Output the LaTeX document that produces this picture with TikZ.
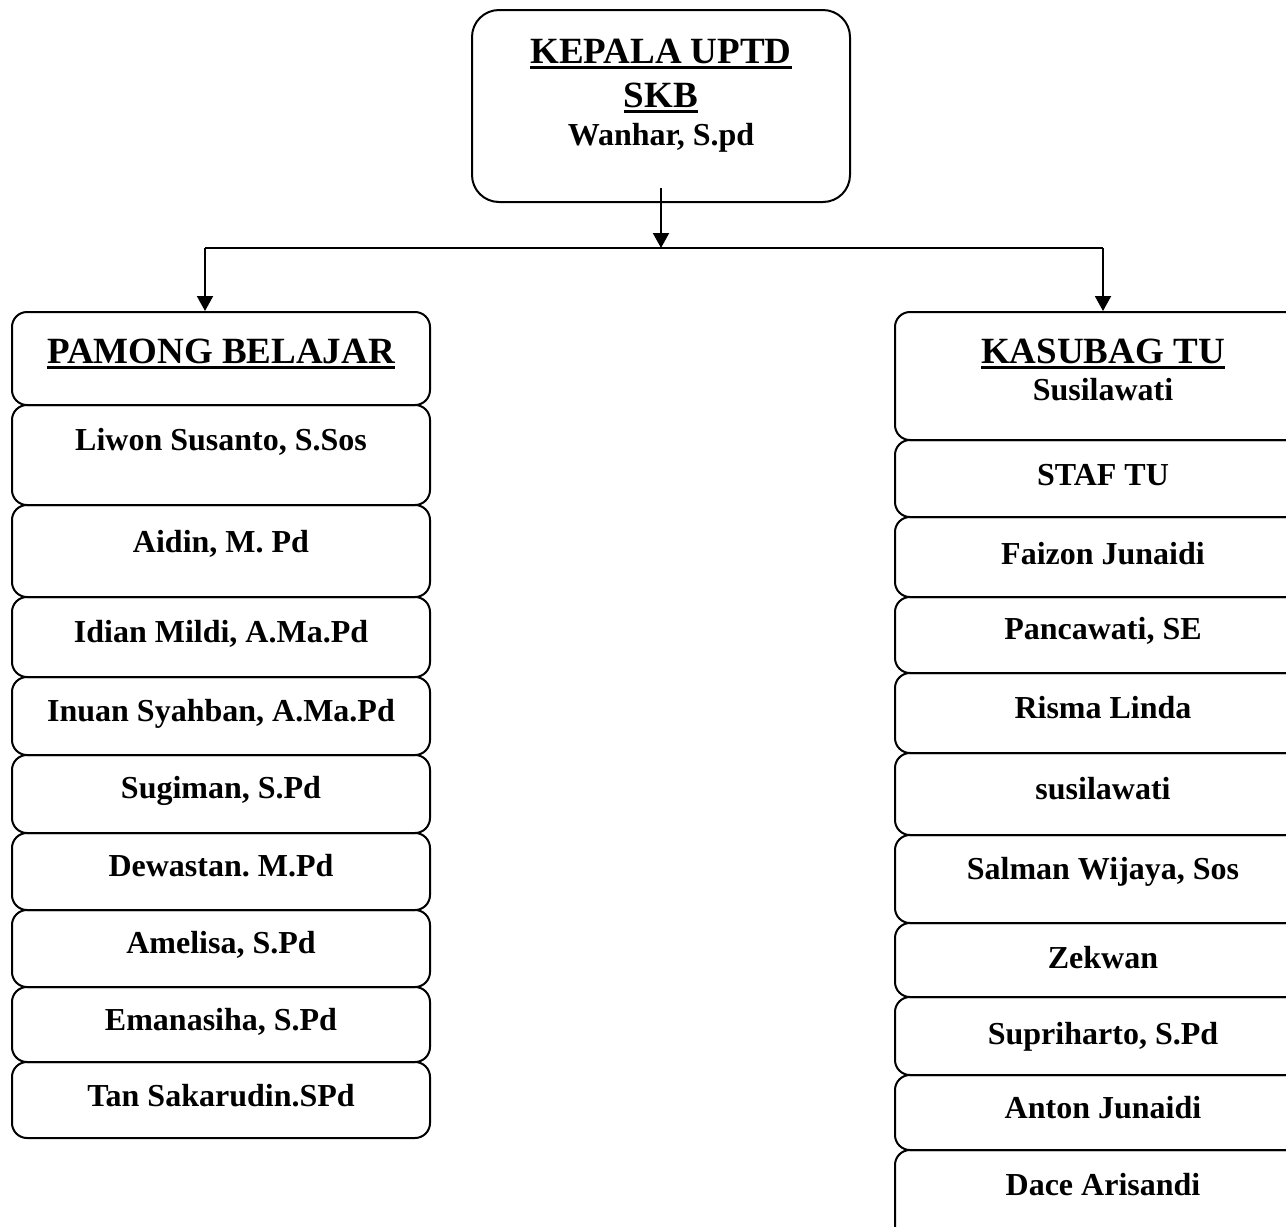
\documentclass[tikz,border=0pt]{standalone}
\usepackage{fontspec}
\setmainfont{Liberation Serif}
\usetikzlibrary{arrows.meta,fit}
\newcommand{\myul}[1]{\leavevmode\vtop{\hbox{#1}\kern2.5pt\hrule height 3pt}}
\frenchspacing
\begin{document}
\begin{tikzpicture}[x=1pt,y=-1pt, line width=2pt,
  box/.style={draw, rounded corners=15pt, inner sep=0pt},
  nm/.style={anchor=base, inner sep=0pt, font=\fontsize{32}{38}\selectfont\bfseries},
  ttl/.style={anchor=base, inner sep=0pt, font=\fontsize{37}{44}\selectfont\bfseries},
  arr/.style={-{Triangle[length=15pt,width=16pt]}}]
\useasboundingbox (0,0) rectangle (1286,1227);
\clip (0,0) rectangle (1286,1227);
% top box
\node[box, rounded corners=27pt, fit={(472,10)(850,202)}] (top) {};
\node[ttl] (t1) at (661,63) {\myul{KEPALA UPTD}};
\node[ttl] (t2) at (661,107) {\myul{SKB}};
\node[nm] (t3) at (661,145) {Wanhar, S.pd};
% connectors
\coordinate (j) at (661,248);
\coordinate (jl) at (205,248);
\coordinate (jr) at (1103,248);
% left column
\node[box, fit={(12,312)(430,405)}] (pb) {};
\node[ttl] at (221,363) {\myul{PAMONG BELAJAR}};
\node[box, fit={(12,405)(430,505)}] (l1) {};
\node[nm] at (221,450) {Liwon Susanto, S.Sos};
\node[box, fit={(12,505)(430,597)}] (l2) {};
\node[nm] at (221,552) {Aidin, M. Pd};
\node[box, fit={(12,597)(430,677)}] (l3) {};
\node[nm] at (221,642) {Idian Mildi, A.Ma.Pd};
\node[box, fit={(12,677)(430,755)}] (l4) {};
\node[nm] at (221,721) {Inuan Syahban, A.Ma.Pd};
\node[box, fit={(12,755)(430,833)}] (l5) {};
\node[nm] at (221,798) {Sugiman, S.Pd};
\node[box, fit={(12,833)(430,910)}] (l6) {};
\node[nm] at (221,876) {Dewastan. M.Pd};
\node[box, fit={(12,910)(430,987)}] (l7) {};
\node[nm] at (221,953) {Amelisa, S.Pd};
\node[box, fit={(12,987)(430,1062)}] (l8) {};
\node[nm] at (221,1030) {Emanasiha, S.Pd};
\node[box, fit={(12,1062)(430,1138)}] (l9) {};
\node[nm] at (221,1106) {Tan Sakarudin.SPd};
% right column
\node[box, fit={(895,312)(1312,440)}] (kt) {};
\node[ttl] at (1103,363) {\myul{KASUBAG TU}};
\node[nm] at (1103,400) {Susilawati};
\node[box, fit={(895,440)(1312,517)}] (r1) {};
\node[nm] at (1103,485) {STAF TU};
\node[box, fit={(895,517)(1312,597)}] (r2) {};
\node[nm] at (1103,564) {Faizon Junaidi};
\node[box, fit={(895,597)(1312,673)}] (r3) {};
\node[nm] at (1103,639) {Pancawati, SE};
\node[box, fit={(895,673)(1312,753)}] (r4) {};
\node[nm] at (1103,718) {Risma Linda};
\node[box, fit={(895,753)(1312,835)}] (r5) {};
\node[nm] at (1103,799) {susilawati};
\node[box, fit={(895,835)(1312,923)}] (r6) {};
\node[nm] at (1103,879) {Salman Wijaya, Sos};
\node[box, fit={(895,923)(1312,997)}] (r7) {};
\node[nm] at (1103,968) {Zekwan};
\node[box, fit={(895,997)(1312,1075)}] (r8) {};
\node[nm] at (1103,1044) {Supriharto, S.Pd};
\node[box, fit={(895,1075)(1312,1150)}] (r9) {};
\node[nm] at (1103,1118) {Anton Junaidi};
\node[box, fit={(895,1150)(1312,1260)}] (r10) {};
\node[nm] at (1103,1195) {Dace Arisandi};
% arrows
\draw[arr] ([yshift=15pt]top.south) -- (j);
\draw (jl) -- (jr);
\draw[arr] (jl) -- (jl |- pb.north);
\draw[arr] (jr) -- (jr |- kt.north);
\end{tikzpicture}
\end{document}
